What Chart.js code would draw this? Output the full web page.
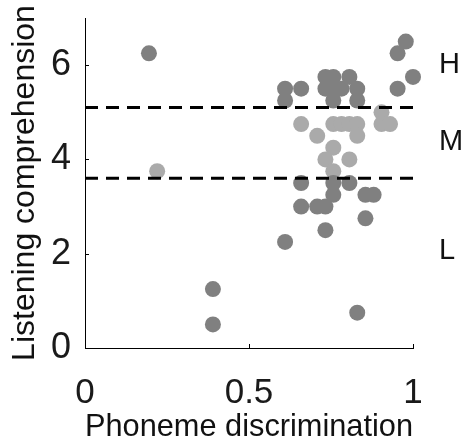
<!DOCTYPE html>
<html>
<head>
<meta charset="utf-8">
<script src="https://cdn.jsdelivr.net/npm/chart.js@4"></script>
<style>
  html, body { margin: 0; padding: 0; background: #fff; }
  #wrap { width: 462px; height: 443px; }
</style>
</head>
<body>
<div id="wrap"><canvas id="chart" width="462" height="443"></canvas></div>
<script>
// data
const darkX = [0.195, 0.39, 0.39, 0.83, 0.61, 0.733, 0.855, 0.659, 0.708, 0.733, 0.757, 0.855, 0.88, 0.659, 0.757, 0.806,
  0.61, 0.61, 0.659, 0.733, 0.757, 0.806, 0.733, 0.757, 0.782, 0.83, 0.757, 0.83, 0.953, 0.978, 1.0, 0.953];
const darkY = [6.25, 1.25, 0.5, 0.75, 2.25, 2.5, 2.75, 3.0, 3.0, 3.0, 3.25, 3.25, 3.25, 3.5, 3.5, 3.5,
  5.5, 5.25, 5.5, 5.75, 5.75, 5.75, 5.5, 5.5, 5.5, 5.5, 5.25, 5.25, 6.25, 6.5, 5.75, 5.5];
const lightX = [0.22, 0.659, 0.708, 0.757, 0.782, 0.806, 0.83, 0.83, 0.757, 0.733, 0.806, 0.757, 0.904, 0.904, 0.93];
const lightY = [3.75, 4.75, 4.5, 4.75, 4.75, 4.75, 4.75, 4.5, 4.25, 4.0, 4.0, 3.75, 5.0, 4.75, 4.75];
const cutoffs = [5.1, 3.6];
const bandLabels = ['H', 'M', 'L'];
const bandLabelY = [6.0, 4.37, 2.06];
const xTicks = [0, 0.5, 1];
const yTicks = [0, 2, 4, 6];

const toPoints = (xs, ys) => xs.map((x, i) => ({ x: x, y: ys[i] }));

// cutoff lines as small line datasets
const cutoffSets = cutoffs.map(c => ({
  type: 'line',
  data: [{ x: 0, y: c }, { x: 1, y: c }],
  borderColor: '#000',
  borderWidth: 3,
  borderDash: [13, 8],
  pointRadius: 0,
  order: 0,
  clip: false,
}));

// tick marks point into the plot, so draw them by hand
const innerTicks = {
  id: 'innerTicks',
  afterDraw(chart) {
    const { ctx, chartArea, scales } = chart;
    ctx.save();
    ctx.strokeStyle = '#000';
    ctx.lineWidth = 1;
    ctx.beginPath();
    yTicks.forEach(v => {
      const py = Math.round(scales.y.getPixelForValue(v)) + 0.5;
      ctx.moveTo(chartArea.left, py);
      ctx.lineTo(chartArea.left + 4, py);
    });
    xTicks.forEach(v => {
      const px = Math.round(scales.x.getPixelForValue(v)) + 0.5;
      ctx.moveTo(px, chartArea.bottom);
      ctx.lineTo(px, chartArea.bottom - 4);
    });
    ctx.stroke();
    ctx.restore();
  }
};

const bandText = {
  id: 'bandText',
  afterDraw(chart) {
    const { ctx, chartArea, scales } = chart;
    ctx.save();
    ctx.fillStyle = '#111';
    ctx.font = '29px "Liberation Sans", Arial, sans-serif';
    ctx.textAlign = 'left';
    ctx.textBaseline = 'middle';
    bandLabels.forEach((t, i) => {
      ctx.fillText(t, chartArea.right + 26, scales.y.getPixelForValue(bandLabelY[i]));
    });
    ctx.restore();
  }
};

const font = '"Liberation Sans", Arial, sans-serif';

new Chart(document.getElementById('chart'), {
  type: 'scatter',
  data: {
    datasets: [
      ...cutoffSets,
      {
        data: toPoints(darkX, darkY),
        backgroundColor: '#808080',
        borderWidth: 0,
        pointRadius: 8,
        order: 1,
        clip: false,
      },
      {
        data: toPoints(lightX, lightY),
        backgroundColor: '#aaaaaa',
        borderWidth: 0,
        pointRadius: 8,
        order: 1,
        clip: false,
      },
    ],
  },
  options: {
    responsive: false,
    animation: false,
    layout: { padding: { top: 18, right: 49, left: 0, bottom: 0 } },
    plugins: {
      legend: { display: false },
      tooltip: { enabled: false },
    },
    scales: {
      x: {
        type: 'linear',
        min: 0,
        max: 1,
        afterBuildTicks: s => { s.ticks = xTicks.map(v => ({ value: v })); },
        afterFit: s => { s.height = 95; s.paddingLeft = 0; s.paddingRight = 0; },
        grid: { display: false, drawTicks: false },
        border: { display: true, color: '#000', width: 1 },
        ticks: {
          color: '#1a1a1a',
          font: { family: font, size: 35 },
          padding: 24,
          maxRotation: 0,
          callback: v => String(v),
        },
        title: {
          display: true,
          text: 'Phoneme discrimination',
          color: '#111',
          font: { family: font, size: 32 },
          padding: { top: 0, bottom: -3 },
        },
      },
      y: {
        type: 'linear',
        min: 0,
        max: 7,
        afterBuildTicks: s => { s.ticks = yTicks.map(v => ({ value: v })); },
        afterFit: s => { s.width = 85; s.paddingTop = 0; s.paddingBottom = 0; },
        grid: { display: false, drawTicks: false },
        border: { display: true, color: '#000', width: 1 },
        ticks: {
          color: '#1a1a1a',
          font: { family: font, size: 36 },
          padding: 14,
          callback: v => String(v),
        },
        title: {
          display: true,
          text: 'Listening comprehension',
          color: '#111',
          font: { family: font, size: 32 },
          padding: { top: 6, bottom: 0 },
        },
      },
    },
  },
  plugins: [innerTicks, bandText],
});
</script>
</body>
</html>
